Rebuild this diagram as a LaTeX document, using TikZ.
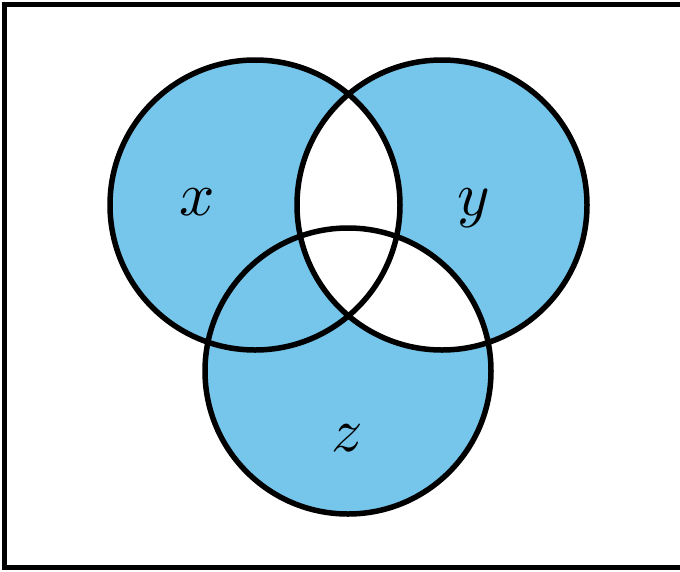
\documentclass[tikz,border=0pt]{standalone}
\definecolor{setblue}{RGB}{118,197,234}
\newcommand{\setname}[1]{\scalebox{6.2}{$#1$}}

\begin{document}
\begin{tikzpicture}[x=1pt, y=-1pt,
    ring/.style={line width=5.5pt},
    setlabel/.style={anchor=base}
]
\useasboundingbox (0,0) rectangle (680,571);
\coordinate (cx) at (255,205);
\coordinate (cy) at (442,205);
\coordinate (cz) at (348,371);
\def\rad{145}
\def\radz{143}

% blue sets
\fill[setblue] (cx) circle (\rad) (cy) circle (\rad) (cz) circle (\radz);
% white overlaps
\begin{scope}
  \clip (cx) circle (\rad);
  \fill[white] (cy) circle (\rad);
\end{scope}
\begin{scope}
  \clip (cy) circle (\rad);
  \fill[white] (cz) circle (\radz);
\end{scope}
\draw[ring] (cx) circle (\rad) (cy) circle (\rad) (cz) circle (\radz);

\node[setlabel] (lx) at (197,215) {\setname{x}};
\node[setlabel] (ly) at (474,215) {\setname{y}};
\node[setlabel] (lz) at (347,451) {\setname{z}};

% frame, open on the right
\draw[line width=5pt] (680,4) -- (4.5,4) -- (4.5,567) -- (680,567);
\end{tikzpicture}
\end{document}
